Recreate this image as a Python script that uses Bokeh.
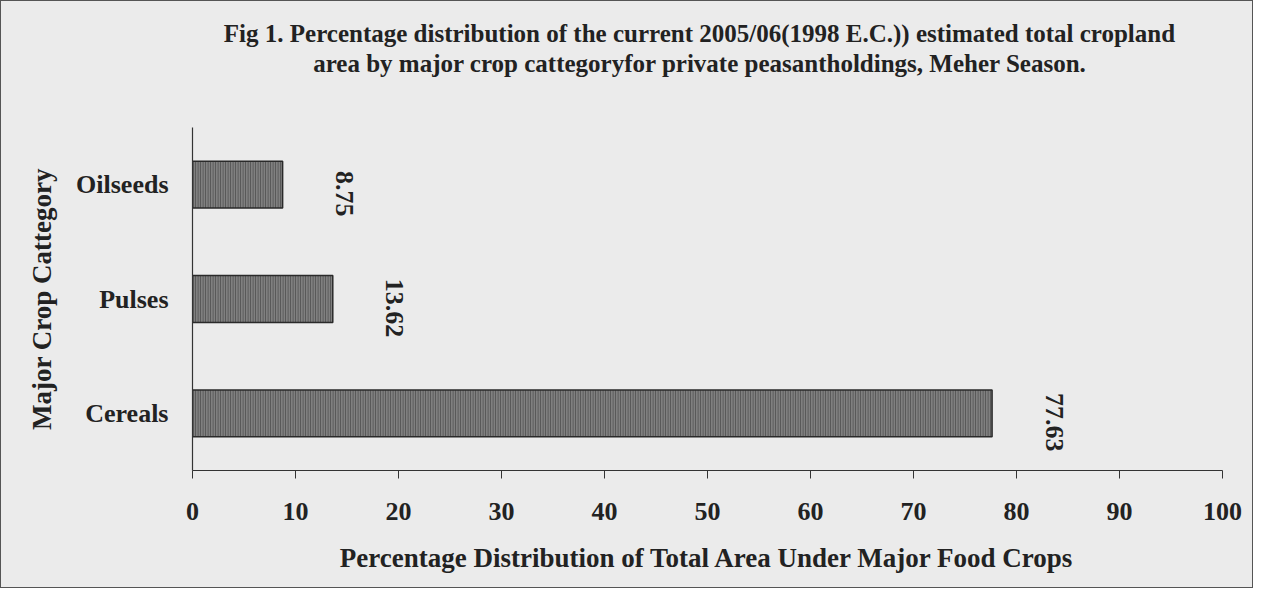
import math
from bokeh.plotting import figure
from bokeh.layouts import column
from bokeh.models import ColumnDataSource, FactorRange, Range1d, FixedTicker, Div
from bokeh.core.properties import value
from bokeh.embed import file_html
from bokeh.resources import INLINE

categories = ["Cereals", "Pulses", "Oilseeds"]
percentages = [77.63, 13.62, 8.75]
value_labels = ["77.63", "13.62", "8.75"]
x_ticks = [0, 10, 20, 30, 40, 50, 60, 70, 80, 90, 100]

title_lines = [
    "Fig 1. Percentage distribution of the current 2005/06(1998 E.C.)) estimated total cropland",
    "area by major crop cattegoryfor private peasantholdings, Meher Season.",
]
x_title = "Percentage Distribution of Total Area Under Major Food Crops"
y_title = "Major Crop Cattegory"

FONT = "Liberation Serif"
BG = "#ebebeb"
INK = "#222222"

W = 1251
TITLE_H = 96
PLOT_H = 586 - TITLE_H

header = Div(text="<br>".join(title_lines), width=W, height=TITLE_H,
             styles={"text-align": "center", "font-family": FONT, "font-weight": "bold",
                     "font-size": "25px", "line-height": "30px", "color": INK,
                     "padding-top": "18px", "padding-left": "146px", "box-sizing": "border-box",
                     "background-color": BG, "margin": "0"})

p = figure(width=W, height=PLOT_H, output_backend="svg", toolbar_location=None,
           y_range=FactorRange(factors=categories), x_range=Range1d(0, 100),
           min_border_left=191, min_border_right=30, min_border_top=126 - TITLE_H,
           min_border_bottom=117)

p.background_fill_color = BG
p.border_fill_color = BG
p.outline_line_color = None
p.grid.visible = False

src = ColumnDataSource(dict(cat=categories, val=percentages, lab=value_labels))
p.hbar(y="cat", right="val", left=0, height=0.41, source=src,
       fill_color="#808080", line_color="#2a2a2a", line_width=1.5,
       hatch_pattern="vertical_line", hatch_color="#505050", hatch_scale=2.5,
       hatch_weight=1)

p.text(x="val", y="cat", text="lab", source=src, x_offset=62, y_offset=9,
       angle=-math.pi / 2, text_align="center", text_baseline="middle",
       text_font=value(FONT), text_font_style="bold", text_font_size="26px",
       text_color=INK)

xa = p.xaxis[0]
xa.ticker = FixedTicker(ticks=x_ticks)
xa.axis_line_color = "#333333"
xa.axis_line_width = 1.2
xa.major_tick_line_color = "#333333"
xa.major_tick_out = 8
xa.major_tick_in = 0
xa.minor_tick_line_color = None
xa.major_label_standoff = 24
xa.major_label_text_font = FONT
xa.major_label_text_font_style = "bold"
xa.major_label_text_font_size = "26px"
xa.major_label_text_color = INK
xa.axis_label = x_title
xa.axis_label_standoff = 20
xa.axis_label_text_font = FONT
xa.axis_label_text_font_style = "bold"
xa.axis_label_text_font_size = "27px"
xa.axis_label_text_color = INK

ya = p.yaxis[0]
ya.axis_line_color = "#333333"
ya.axis_line_width = 1.2
ya.major_tick_line_color = None
ya.minor_tick_line_color = None
ya.major_label_standoff = 18
ya.major_label_text_font = FONT
ya.major_label_text_font_style = "bold"
ya.major_label_text_font_size = "26px"
ya.major_label_text_color = INK
ya.axis_label = y_title
ya.axis_label_standoff = 16
ya.axis_label_text_font = FONT
ya.axis_label_text_font_style = "bold"
ya.axis_label_text_font_size = "27px"
ya.axis_label_text_color = INK

layout = column(header, p, spacing=0,
                styles={"border": "1px solid #555", "background-color": BG})

open("out.html", "w").write(file_html(layout, INLINE))
